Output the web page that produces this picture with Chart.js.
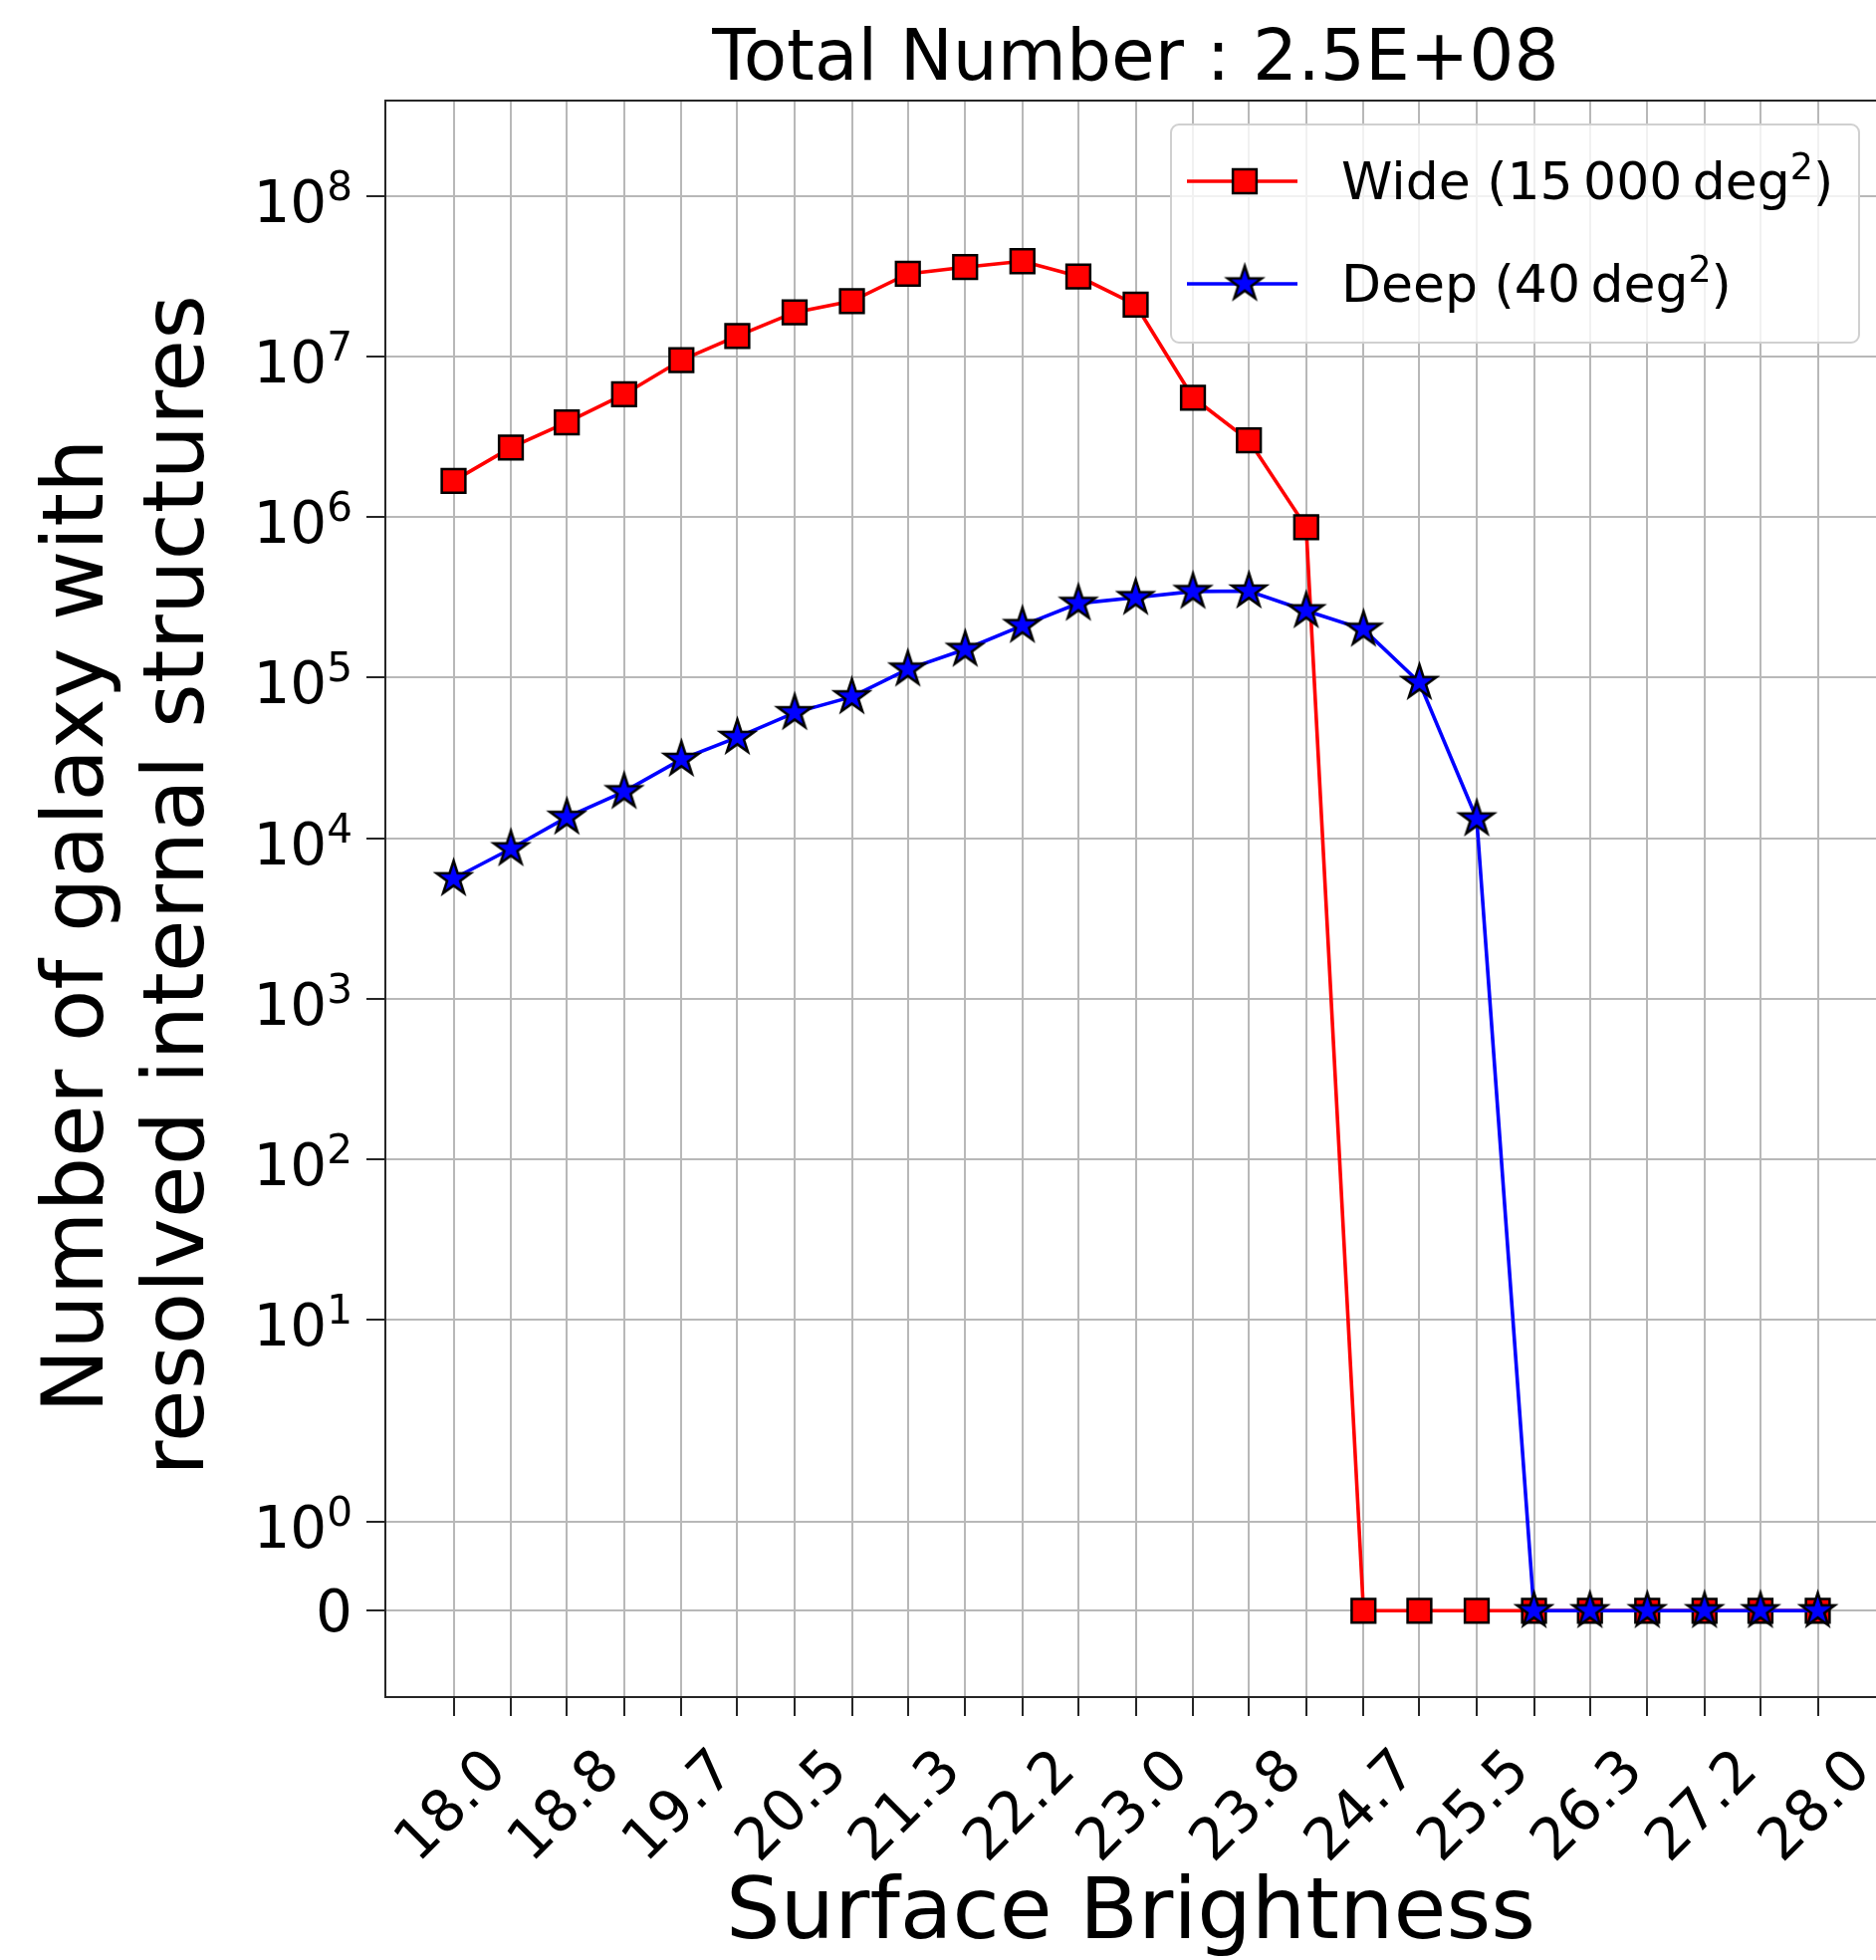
<!DOCTYPE html>
<html>
<head>
<meta charset="utf-8">
<script src="https://cdn.jsdelivr.net/npm/chart.js@4.4.1/dist/chart.umd.min.js"></script>
<style>
  html, body { margin: 0; padding: 0; background: #fff; overflow: hidden; }
  canvas { display: block; }
</style>
</head>
<body>
<canvas id="chart" width="1884" height="1968"></canvas>
<script>
// surface brightness bins (x) and galaxy counts per bin
const surfaceBrightness = [18.0, 18.42, 18.83, 19.25, 19.67, 20.08, 20.5, 20.92, 21.33, 21.75, 22.17, 22.58,
  23.0, 23.42, 23.83, 24.25, 24.67, 25.08, 25.5, 25.92, 26.33, 26.75, 27.17, 27.58, 28.0];
const xTickLabels = ['18.0', '18.8', '19.7', '20.5', '21.3', '22.2', '23.0', '23.8', '24.7', '25.5', '26.3', '27.2', '28.0'];

const wideCounts = [1.68e6, 2.71e6, 3.89e6, 5.81e6, 9.5e6, 1.34e7, 1.88e7, 2.21e7, 3.27e7, 3.60e7, 3.92e7, 3.15e7,
  2.10e7, 5.54e6, 3.00e6, 8.65e5, 0, 0, 0, 0, 0, 0, 0, 0, 0];
const deepCounts = [5.6e3, 8.6e3, 1.35e4, 1.95e4, 3.1e4, 4.25e4, 6.05e4, 7.6e4, 1.13e5, 1.5e5, 2.11e5, 2.9e5,
  3.15e5, 3.44e5, 3.46e5, 2.61e5, 2.0e5, 9.33e4, 1.32e4, 0, 0, 0, 0, 0, 0];

const yTickValues = [0, 1, 10, 100, 1e3, 1e4, 1e5, 1e6, 1e7, 1e8];
const seriesLabels = ['Wide (15\u2009000\u2009deg\u00b2)', 'Deep (40\u2009deg\u00b2)'];
const chartTitle = 'Total Number : 2.5E+08';
const FONT = '"DejaVu Sans", "Noto Sans", sans-serif';

// symlog transform (linthresh = 2, linscale = 1, base 10), in decades
const LINTHRESH = 2;
const LINSCALE_ADJ = 1 / (1 - 1 / 10);
function symlog(v) {
  const a = Math.abs(v);
  if (a <= LINTHRESH) return v * LINSCALE_ADJ / LINTHRESH;
  return Math.sign(v) * (LINSCALE_ADJ + Math.log10(a / LINTHRESH));
}
function symexp(t) {
  const a = Math.abs(t);
  if (a <= LINSCALE_ADJ) return t * LINTHRESH / LINSCALE_ADJ;
  return Math.sign(t) * LINTHRESH * Math.pow(10, a - LINSCALE_ADJ);
}

// linear axis that never asks the layout for extra room for its labels
class TightLinearScale extends Chart.LinearScale {
  static id = 'tightLinear';
  static defaults = Chart.LinearScale.defaults;
  _calculatePadding() {
    this.paddingLeft = this.paddingRight = this.paddingTop = this.paddingBottom = 0;
  }
  getPadding() {
    return { left: 0, top: 0, right: 0, bottom: 0 };
  }
}

class SymlogScale extends TightLinearScale {
  static id = 'symlog';

  buildTicks() {
    return yTickValues.map(v => ({ value: v }));
  }
  configure() {
    super.configure();
    this._tMin = symlog(this.min);
    this._tMax = symlog(this.max);
  }
  getPixelForValue(value) {
    if (value === null || value === undefined) return NaN;
    return this.getPixelForDecimal((symlog(value) - this._tMin) / (this._tMax - this._tMin));
  }
  getValueForPixel(pixel) {
    return symexp(this._tMin + this.getDecimalForPixel(pixel) * (this._tMax - this._tMin));
  }
}
Chart.register(TightLinearScale, SymlogScale);

const SUP = '\u2070\u00b9\u00b2\u00b3\u2074\u2075\u2076\u2077\u2078\u2079';
function powerLabel(v) {
  if (v === 0) return '0';
  const e = Math.round(Math.log10(v));
  return '10' + String(e).split('').map(d => SUP[+d]).join('');
}

// text with superscript digits drawn mathtext-like (smaller, raised)
function drawRich(ctx, text, x, y, size, align) {
  const runs = [];
  for (const ch of text) {
    const k = SUP.indexOf(ch);
    const sup = k >= 0;
    const c = sup ? String(k) : ch;
    const last = runs[runs.length - 1];
    if (last && last.sup === sup) last.t += c;
    else runs.push({ t: c, sup });
  }
  let total = 0;
  runs.forEach(r => {
    ctx.font = (r.sup ? size * 0.7 : size) + 'px ' + FONT;
    r.w = ctx.measureText(r.t).width;
    total += r.w;
  });
  let cx = align === 'right' ? x - total : x;
  ctx.textAlign = 'left';
  ctx.textBaseline = 'alphabetic';
  runs.forEach(r => {
    ctx.font = (r.sup ? size * 0.7 : size) + 'px ' + FONT;
    ctx.fillText(r.t, cx, r.sup ? y - size * 0.38 : y);
    cx += r.w;
  });
}

// filled 5-point star marker (matplotlib '*')
function makeStar(R, fill, edge, lw) {
  const size = Math.ceil(2 * R + 2 * lw + 4);
  const c = document.createElement('canvas');
  c.width = c.height = size;
  const g = c.getContext('2d');
  const cx = size / 2, cy = size / 2;
  g.beginPath();
  for (let k = 0; k < 10; k++) {
    const r = k % 2 === 0 ? R : R * 0.381966;
    const ang = -Math.PI / 2 + k * Math.PI / 5;
    g.lineTo(cx + r * Math.cos(ang), cy + r * Math.sin(ang));
  }
  g.closePath();
  g.fillStyle = fill;
  g.fill();
  g.strokeStyle = edge;
  g.lineWidth = lw;
  g.stroke();
  return c;
}
const starMarker = makeStar(18, '#0000ff', '#000000', 2.5);

// spines, title, y tick labels and legend box
const decorations = {
  id: 'decorations',
  afterDatasetsDraw(chart) {
    const { ctx, chartArea: a } = chart;
    ctx.save();
    ctx.strokeStyle = '#262626';
    ctx.lineWidth = 2;
    ctx.beginPath();
    ctx.moveTo(a.right + 5, a.top);
    ctx.lineTo(a.left, a.top);
    ctx.lineTo(a.left, a.bottom);
    ctx.lineTo(a.right + 5, a.bottom);
    ctx.stroke();
    ctx.restore();
  },
  afterDraw(chart) {
    const { ctx, chartArea: a } = chart;
    const yScale = chart.scales.y;
    const xScale = chart.scales.x;
    ctx.save();
    ctx.fillStyle = '#000';

    // title centred over the full (partly cropped) axes
    const axesRight = xScale.getPixelForValue(28.5);
    ctx.font = '71px ' + FONT;
    ctx.textAlign = 'center';
    ctx.textBaseline = 'alphabetic';
    ctx.fillText(chartTitle, (a.left + axesRight) / 2, 80);

    yScale.ticks.forEach(t => {
      const py = yScale.getPixelForValue(t.value);
      drawRich(ctx, powerLabel(t.value), yScale.right - 19 - 14, py + (t.value === 0 ? 21 : 26), 58, 'right');
    });

    const w = 691, h = 219;
    const x0 = axesRight - 27 - w, y0 = a.top + 24;
    ctx.beginPath();
    ctx.roundRect(x0, y0, w, h, 8);
    ctx.fillStyle = 'rgba(255,255,255,0.8)';
    ctx.fill();
    ctx.strokeStyle = '#d0d0d0';
    ctx.lineWidth = 2;
    ctx.stroke();

    chart.data.datasets.forEach((ds, i) => {
      const y = y0 + 57 + i * 103;
      ctx.beginPath();
      ctx.moveTo(x0 + 16, y);
      ctx.lineTo(x0 + 127, y);
      ctx.strokeStyle = ds.borderColor;
      ctx.lineWidth = ds.borderWidth;
      ctx.stroke();
      ctx.fillStyle = ds.pointBackgroundColor;
      ctx.strokeStyle = ds.pointBorderColor;
      ctx.lineWidth = ds.pointBorderWidth;
      Chart.helpers.drawPoint(ctx, {
        pointStyle: ds.pointStyle, radius: ds.pointRadius, borderWidth: ds.pointBorderWidth, rotation: 0
      }, x0 + 74, y);
      ctx.fillStyle = '#000';
      drawRich(ctx, ds.label, x0 + 171, y + 18, 52, 'left');
    });
    ctx.restore();
  }
};

new Chart(document.getElementById('chart'), {
  type: 'line',
  data: {
    datasets: [
      {
        label: seriesLabels[0],
        data: surfaceBrightness.map((x, i) => ({ x, y: wideCounts[i] })),
        borderColor: '#ff0000',
        borderWidth: 3.6,
        pointStyle: 'rect',
        pointRadius: 16.8,
        pointBackgroundColor: '#ff0000',
        pointBorderColor: '#000000',
        pointBorderWidth: 2.5,
        order: 2
      },
      {
        label: seriesLabels[1],
        data: surfaceBrightness.map((x, i) => ({ x, y: deepCounts[i] })),
        borderColor: '#0000ff',
        borderWidth: 3.6,
        pointStyle: starMarker,
        pointRadius: 18,
        pointBackgroundColor: '#0000ff',
        pointBorderColor: '#000000',
        pointBorderWidth: 2.5,
        order: 1
      }
    ]
  },
  options: {
    responsive: false,
    animation: false,
    events: [],
    layout: { autoPadding: false, padding: { top: 101, left: 0, right: 0, bottom: 0 } },
    plugins: {
      legend: { display: false },
      title: { display: false },
      tooltip: { enabled: false }
    },
    scales: {
      x: {
        type: 'tightLinear',
        // axes run 17.5..28.5; the right end is cut off by the image edge
        min: 17.5,
        max: 28.427,
        afterBuildTicks: scale => { scale.ticks = surfaceBrightness.map(v => ({ value: v })); },
        afterFit: scale => { scale.height = 264; },
        grid: { color: '#b8b8b8', lineWidth: 2, tickColor: '#262626', tickWidth: 2, tickLength: 19 },
        border: { display: false },
        ticks: {
          autoSkip: false,
          minRotation: 45,
          maxRotation: 45,
          padding: 22,
          labelOffset: 45,
          color: '#000',
          font: { family: FONT, size: 58 },
          callback: (value, index) => (index % 2 === 0 ? xTickLabels[index / 2] : '')
        },
        title: {
          display: true,
          text: 'Surface Brightness',
          color: '#000',
          font: { family: FONT, size: 86, lineHeight: 1.03 },
          padding: { top: 0, bottom: 0 }
        }
      },
      y: {
        type: 'symlog',
        min: -0.968,
        max: 3.92e8,
        afterFit: scale => { scale.width = 387; },
        grid: { color: '#b8b8b8', lineWidth: 2, tickColor: '#262626', tickWidth: 2, tickLength: 19 },
        border: { display: false },
        ticks: { display: false },
        title: {
          display: true,
          text: ['Number of galaxy with  ', ' resolved internal structures'],
          color: '#000',
          font: { family: FONT, size: 86, lineHeight: 1.175 },
          padding: { top: 30, bottom: 0 }
        }
      }
    }
  },
  plugins: [decorations]
});
</script>
</body>
</html>
